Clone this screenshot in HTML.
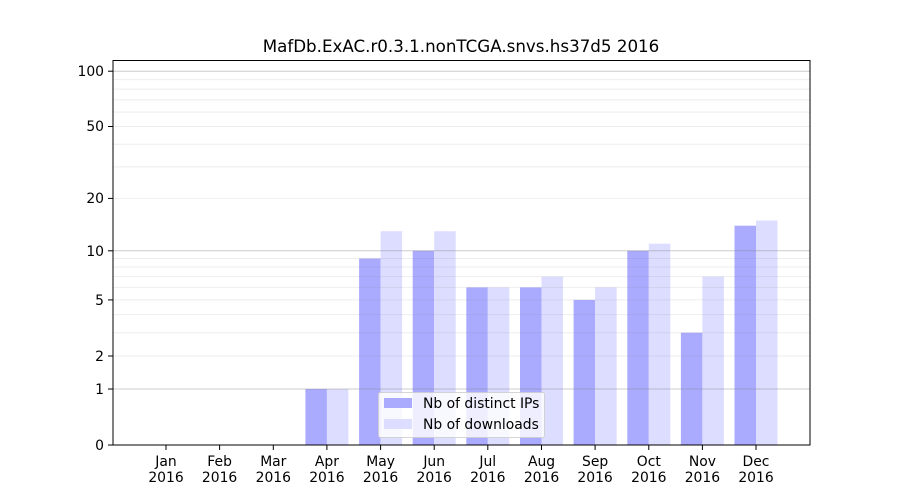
<!DOCTYPE html>
<html><head><meta charset="utf-8"><style>html,body{margin:0;padding:0;background:#fff}svg{display:block}</style></head>
<body>
<svg width="900" height="500" xmlns="http://www.w3.org/2000/svg" font-family="DejaVu Sans, Liberation Sans, sans-serif" font-size="13.9" fill="#000">
<rect width="900" height="500" fill="#fff"/>
<g id="bars">
<rect x="305.4" y="389" width="21.5" height="56" fill="#aaaaff"/>
<rect x="359.1" y="258.5" width="21.5" height="186.5" fill="#aaaaff"/>
<rect x="412.7" y="250.8" width="21.5" height="194.2" fill="#aaaaff"/>
<rect x="466.3" y="287.4" width="21.5" height="157.6" fill="#aaaaff"/>
<rect x="520" y="287.4" width="21.5" height="157.6" fill="#aaaaff"/>
<rect x="573.6" y="299.9" width="21.5" height="145.1" fill="#aaaaff"/>
<rect x="627.3" y="250.8" width="21.5" height="194.2" fill="#aaaaff"/>
<rect x="680.9" y="332.7" width="21.5" height="112.3" fill="#aaaaff"/>
<rect x="734.5" y="225.7" width="21.5" height="219.3" fill="#aaaaff"/>
<rect x="326.9" y="389" width="21.5" height="56" fill="#ddddff"/>
<rect x="380.6" y="231.2" width="21.5" height="213.8" fill="#ddddff"/>
<rect x="434.2" y="231.2" width="21.5" height="213.8" fill="#ddddff"/>
<rect x="487.8" y="287.4" width="21.5" height="157.6" fill="#ddddff"/>
<rect x="541.5" y="276.6" width="21.5" height="168.4" fill="#ddddff"/>
<rect x="595.1" y="287.4" width="21.5" height="157.6" fill="#ddddff"/>
<rect x="648.8" y="243.7" width="21.5" height="201.3" fill="#ddddff"/>
<rect x="702.4" y="276.6" width="21.5" height="168.4" fill="#ddddff"/>
<rect x="756" y="220.5" width="21.5" height="224.5" fill="#ddddff"/>
</g>
<g stroke="#888" stroke-opacity="0.15" stroke-width="1">
<line x1="113" x2="810" y1="356" y2="356"/>
<line x1="113" x2="810" y1="332.7" y2="332.7"/>
<line x1="113" x2="810" y1="314.6" y2="314.6"/>
<line x1="113" x2="810" y1="299.9" y2="299.9"/>
<line x1="113" x2="810" y1="287.4" y2="287.4"/>
<line x1="113" x2="810" y1="276.6" y2="276.6"/>
<line x1="113" x2="810" y1="267" y2="267"/>
<line x1="113" x2="810" y1="258.5" y2="258.5"/>
<line x1="113" x2="810" y1="198.4" y2="198.4"/>
<line x1="113" x2="810" y1="166.9" y2="166.9"/>
<line x1="113" x2="810" y1="144.2" y2="144.2"/>
<line x1="113" x2="810" y1="126.5" y2="126.5"/>
<line x1="113" x2="810" y1="112.1" y2="112.1"/>
<line x1="113" x2="810" y1="99.8" y2="99.8"/>
<line x1="113" x2="810" y1="89.1" y2="89.1"/>
<line x1="113" x2="810" y1="79.6" y2="79.6"/>
</g>
<g stroke="#808080" stroke-opacity="0.4" stroke-width="1">
<line x1="113" x2="810" y1="389" y2="389"/>
<line x1="113" x2="810" y1="250.8" y2="250.8"/>
<line x1="113" x2="810" y1="71.2" y2="71.2"/>
</g>
<rect x="113" y="60.5" width="697" height="384.5" fill="none" stroke="#000" stroke-width="1"/>
<g stroke="#000">
<line x1="108" x2="113" y1="445" y2="445"/><line x1="108" x2="113" y1="389" y2="389"/>
<line x1="108" x2="113" y1="356" y2="356"/><line x1="108" x2="113" y1="299.9" y2="299.9"/>
<line x1="108" x2="113" y1="250.8" y2="250.8"/><line x1="108" x2="113" y1="198.4" y2="198.4"/>
<line x1="108" x2="113" y1="126.5" y2="126.5"/><line x1="108" x2="113" y1="71.2" y2="71.2"/>
</g>
<g text-anchor="end">
<text x="104" y="450">0</text><text x="104" y="394">1</text><text x="104" y="361">2</text>
<text x="104" y="305">5</text><text x="104" y="256">10</text><text x="104" y="203">20</text>
<text x="104" y="131">50</text><text x="104" y="76">100</text>
</g>
<g stroke="#000">
<line x1="166" x2="166" y1="445" y2="450"/><line x1="219.6" x2="219.6" y1="445" y2="450"/>
<line x1="273.3" x2="273.3" y1="445" y2="450"/><line x1="326.9" x2="326.9" y1="445" y2="450"/>
<line x1="380.6" x2="380.6" y1="445" y2="450"/><line x1="434.2" x2="434.2" y1="445" y2="450"/>
<line x1="487.8" x2="487.8" y1="445" y2="450"/><line x1="541.5" x2="541.5" y1="445" y2="450"/>
<line x1="595.1" x2="595.1" y1="445" y2="450"/><line x1="648.8" x2="648.8" y1="445" y2="450"/>
<line x1="702.4" x2="702.4" y1="445" y2="450"/><line x1="756" x2="756" y1="445" y2="450"/>
</g>
<g text-anchor="middle">
<text x="166" y="466">Jan</text><text x="166" y="482">2016</text>
<text x="219.6" y="466">Feb</text><text x="219.6" y="482">2016</text>
<text x="273.3" y="466">Mar</text><text x="273.3" y="482">2016</text>
<text x="326.9" y="466">Apr</text><text x="326.9" y="482">2016</text>
<text x="380.6" y="466">May</text><text x="380.6" y="482">2016</text>
<text x="434.2" y="466">Jun</text><text x="434.2" y="482">2016</text>
<text x="487.8" y="466">Jul</text><text x="487.8" y="482">2016</text>
<text x="541.5" y="466">Aug</text><text x="541.5" y="482">2016</text>
<text x="595.1" y="466">Sep</text><text x="595.1" y="482">2016</text>
<text x="648.8" y="466">Oct</text><text x="648.8" y="482">2016</text>
<text x="702.4" y="466">Nov</text><text x="702.4" y="482">2016</text>
<text x="756" y="466">Dec</text><text x="756" y="482">2016</text>
</g>
<text x="461" y="52" text-anchor="middle" font-size="16.7">MafDb.ExAC.r0.3.1.nonTCGA.snvs.hs37d5 2016</text>
<rect x="378.5" y="392.5" width="166" height="45" rx="2" fill="#fff" fill-opacity="0.8" stroke="#ccc" stroke-opacity="0.8"/>
<rect x="384" y="398" width="28" height="10" fill="#aaaaff"/>
<rect x="384" y="419" width="28" height="10" fill="#ddddff"/>
<text x="423" y="408">Nb of distinct IPs</text>
<text x="423" y="429">Nb of downloads</text>
</svg>
</body></html>
